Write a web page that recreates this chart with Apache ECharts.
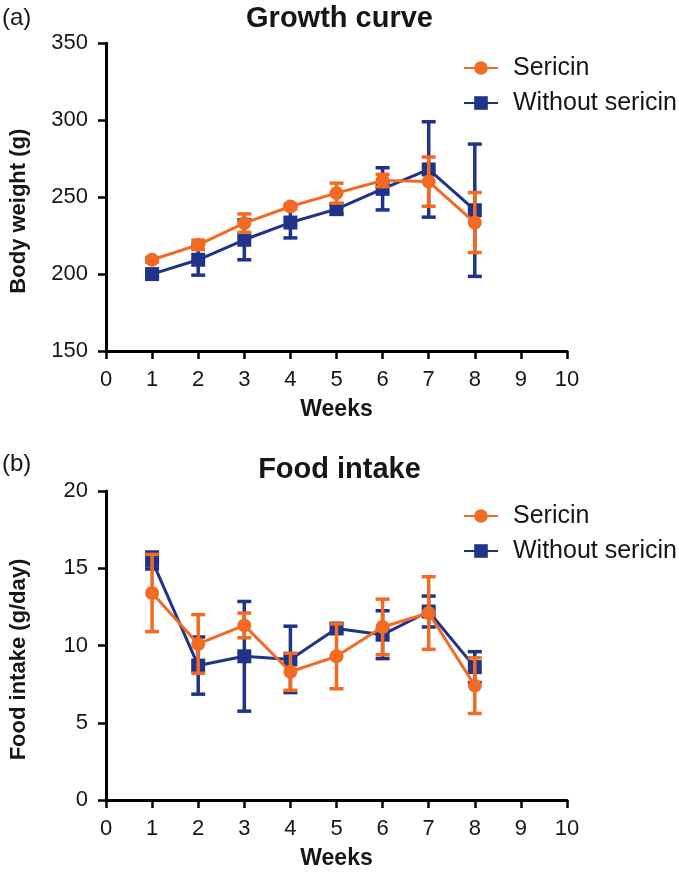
<!DOCTYPE html>
<html>
<head>
<meta charset="utf-8">
<script src="https://cdn.jsdelivr.net/npm/echarts@6/dist/echarts.min.js"></script>
<style>
html,body{margin:0;padding:0;background:#fff;}
#chart{width:679px;height:873px;}
</style>
</head>
<body>
<div id="chart"></div>
<script>
// ---- Data ----
var weeks = [1, 2, 3, 4, 5, 6, 7, 8];
var xTicks = [0, 1, 2, 3, 4, 5, 6, 7, 8, 9, 10];

// (a) Growth curve, body weight (g)
var weightSericin      = [209.3, 219.0, 233.1, 243.9, 252.6, 260.8, 260.1, 233.5];
var weightSericinErr   = [1.5, 3, 6, 1.5, 6.5, 4, 16, 19.5];
var weightWithout      = [200.0, 209.3, 222.3, 233.5, 242.2, 255.4, 268.0, 241.5];
var weightWithoutErr   = [1.5, 10, 13, 10, 3, 13.7, 31, 43];

// (b) Food intake (g/day)
var foodSericin        = [13.4, 10.1, 11.3, 8.3, 9.3, 11.2, 12.1, 7.4];
var foodSericinErr     = [2.5, 1.9, 0.8, 1.2, 2.1, 1.8, 2.35, 1.8];
var foodWithout        = [15.5, 8.7, 9.3, 9.1, 11.1, 10.7, 12.2, 8.6];
var foodWithoutErr     = [0.55, 1.85, 3.55, 2.15, 0.3, 1.55, 1.0, 1.0];

var seriesNames = ['Sericin', 'Without sericin'];

// ---- Styles ----
var ORANGE = '#F26A24';
var BLUE = '#1F3488';
var FONT = "'Liberation Sans', Arial, sans-serif";
var TXT = '#161616';

function pts(vals) { return weeks.map(function (w, i) { return [w, vals[i]]; }); }
function errPts(vals, errs) { return weeks.map(function (w, i) { return [w, vals[i] - errs[i], vals[i] + errs[i]]; }); }

function errorSeries(name, vals, errs, idx, color, z) {
  return {
    type: 'custom', name: name + ' err', xAxisIndex: idx, yAxisIndex: idx, z: z,
    silent: true,
    data: errPts(vals, errs),
    encode: { x: 0, y: [1, 2] },
    renderItem: function (params, api) {
      var x = api.value(0);
      var lo = api.coord([x, api.value(1)]);
      var hi = api.coord([x, api.value(2)]);
      var hw = 7;
      var st = { stroke: color, lineWidth: 3.5 };
      return {
        type: 'group',
        children: [
          { type: 'line', shape: { x1: lo[0], y1: lo[1], x2: hi[0], y2: hi[1] }, style: st },
          { type: 'line', shape: { x1: lo[0] - hw, y1: lo[1], x2: lo[0] + hw, y2: lo[1] }, style: st },
          { type: 'line', shape: { x1: hi[0] - hw, y1: hi[1], x2: hi[0] + hw, y2: hi[1] }, style: st }
        ]
      };
    }
  };
}

function lineSeries(name, vals, idx, color, symbol, size, z) {
  return {
    type: 'line', name: name, xAxisIndex: idx, yAxisIndex: idx, z: z,
    data: pts(vals), symbol: symbol, symbolSize: size, showSymbol: true,
    lineStyle: { color: color, width: 3 },
    itemStyle: { color: color },
    emphasis: { disabled: true },
    animation: false
  };
}

function xAxis(idx) {
  return {
    type: 'value', gridIndex: idx, min: 0, max: 10, interval: 1,
    name: 'Weeks', nameLocation: 'middle', nameGap: 47,
    nameTextStyle: { fontFamily: FONT, fontSize: 23, fontWeight: 'bold', color: TXT },
    axisLine: { show: true, onZero: false, lineStyle: { color: '#000', width: 3 } },
    axisTick: { show: true, length: 8, lineStyle: { color: '#000', width: 2.5 } },
    axisLabel: { fontFamily: FONT, fontSize: 22, color: TXT, margin: 18,
      formatter: function (v) { return xTicks.indexOf(v) >= 0 ? String(v) : ''; } },
    splitLine: { show: false }
  };
}

function yAxis(idx, name, min, max, interval) {
  return {
    type: 'value', gridIndex: idx, min: min, max: max, interval: interval,
    name: name, nameLocation: 'middle', nameGap: 76, nameRotate: 90,
    nameTextStyle: { fontFamily: FONT, fontSize: 22, fontWeight: 'bold', color: TXT, padding: [0, 28, 0, 0] },
    axisLine: { show: true, onZero: false, lineStyle: { color: '#000', width: 3 } },
    axisTick: { show: true, length: 8, lineStyle: { color: '#000', width: 2.5 } },
    axisLabel: { fontFamily: FONT, fontSize: 22, color: TXT, margin: 18 },
    splitLine: { show: false }
  };
}

function legend(top) {
  return {
    data: seriesNames, orient: 'vertical', left: 458, top: top,
    itemWidth: 34, itemHeight: 17, itemGap: 9,
    selectedMode: false,
    textStyle: { fontFamily: FONT, fontSize: 25, color: TXT, padding: [0, 0, 0, 10], lineHeight: 26 }
  };
}

var chart = echarts.init(document.getElementById('chart'), null, { renderer: 'canvas' });
chart.setOption({
  backgroundColor: '#ffffff',
  animation: false,
  title: [
    { text: 'Growth curve', left: 'center', top: 4, padding: 0,
      textStyle: { fontFamily: FONT, fontSize: 29, fontWeight: 'bold', color: TXT } },
    { text: 'Food intake', left: 'center', top: 455, padding: 0,
      textStyle: { fontFamily: FONT, fontSize: 29, fontWeight: 'bold', color: TXT } },
    { text: '(a)', left: 2, top: 6, padding: 0,
      textStyle: { fontFamily: FONT, fontSize: 24, fontWeight: 'normal', color: TXT } },
    { text: '(b)', left: 2, top: 452, padding: 0,
      textStyle: { fontFamily: FONT, fontSize: 24, fontWeight: 'normal', color: TXT } }
  ],
  legend: [legend(50), legend(498)],
  grid: [
    { left: 105, top: 43.3, width: 462, height: 307.7, containLabel: false },
    { left: 105, top: 491, width: 462, height: 309, containLabel: false }
  ],
  xAxis: [xAxis(0), xAxis(1)],
  yAxis: [yAxis(0, 'Body weight (g)', 150, 350, 50), yAxis(1, 'Food intake (g/day)', 0, 20, 5)],
  series: [
    errorSeries('Without sericin', weightWithout, weightWithoutErr, 0, BLUE, 2),
    lineSeries('Without sericin', weightWithout, 0, BLUE, 'rect', 14, 3),
    errorSeries('Sericin', weightSericin, weightSericinErr, 0, ORANGE, 4),
    lineSeries('Sericin', weightSericin, 0, ORANGE, 'circle', 14, 5),
    errorSeries('Without sericin', foodWithout, foodWithoutErr, 1, BLUE, 2),
    lineSeries('Without sericin', foodWithout, 1, BLUE, 'rect', 14, 3),
    errorSeries('Sericin', foodSericin, foodSericinErr, 1, ORANGE, 4),
    lineSeries('Sericin', foodSericin, 1, ORANGE, 'circle', 14, 5)
  ]
});
</script>
</body>
</html>
